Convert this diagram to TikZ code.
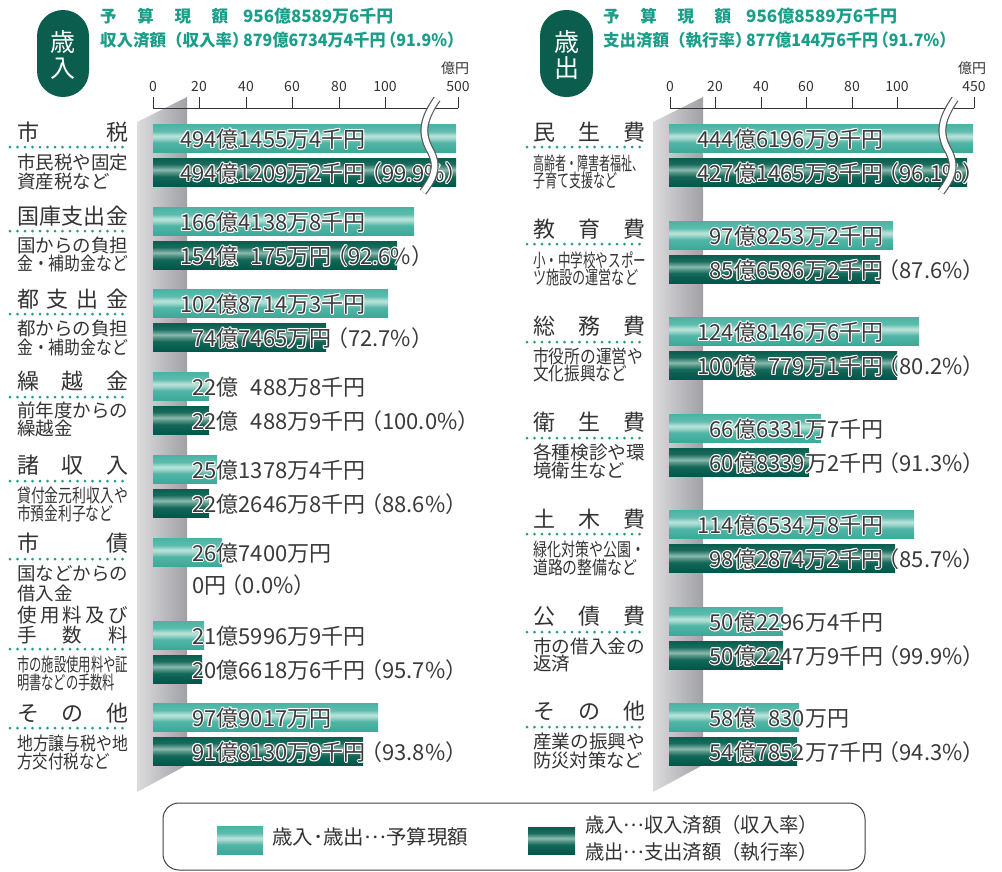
\documentclass[tikz,border=0pt]{standalone}
\usepackage{fontspec}
\setmainfont{Noto Sans CJK JP}
\usepackage{graphicx}
\definecolor{hdr}{HTML}{1A9E89}
\definecolor{pill}{HTML}{0B5D4D}
\definecolor{dotc}{HTML}{1F9D89}
\definecolor{txt}{HTML}{333333}
\definecolor{lbltxt}{HTML}{3A3A3A}
\definecolor{panelL}{HTML}{DCDCDE}
\definecolor{panelR}{HTML}{A0A0A5}
\definecolor{LBa}{HTML}{3CAA99}
\definecolor{LBb}{HTML}{52B5A6}
\definecolor{LBc}{HTML}{A6D9CF}
\definecolor{LBd}{HTML}{B9E2DA}
\definecolor{LBe}{HTML}{5FBCAE}
\definecolor{LBf}{HTML}{4AB3A4}
\definecolor{DBa}{HTML}{00564A}
\definecolor{DBb}{HTML}{136858}
\definecolor{DBc}{HTML}{5F9A8E}
\definecolor{DBd}{HTML}{8BBAB0}
\definecolor{DBe}{HTML}{1A6B5C}
\definecolor{DBf}{HTML}{0A5E4F}
\pgfdeclareverticalshading{lightbar}{100bp}{color(0bp)=(LBa); color(25bp)=(LBa); color(42bp)=(LBb); color(50bp)=(LBc); color(54bp)=(LBd); color(62bp)=(LBe); color(75bp)=(LBf); color(100bp)=(LBf)}
\pgfdeclareverticalshading{darkbar}{100bp}{color(0bp)=(DBa); color(25bp)=(DBa); color(42bp)=(DBb); color(50bp)=(DBc); color(54bp)=(DBd); color(64bp)=(DBe); color(75bp)=(DBf); color(100bp)=(DBf)}
\newcommand\halo[1]{\leavevmode
 \rlap{\textcolor{white}{\kern1pt#1}}%
 \rlap{\textcolor{white}{\kern-1pt#1}}%
 \rlap{\textcolor{white}{\raisebox{1pt}{#1}}}%
 \rlap{\textcolor{white}{\raisebox{-1pt}{#1}}}%
 \rlap{\textcolor{white}{\kern.7pt\raisebox{.7pt}{#1}}}%
 \rlap{\textcolor{white}{\kern-.7pt\raisebox{.7pt}{#1}}}%
 \rlap{\textcolor{white}{\kern.7pt\raisebox{-.7pt}{#1}}}%
 \rlap{\textcolor{white}{\kern-.7pt\raisebox{-.7pt}{#1}}}%
 #1}
\newcommand\fitw[2]{\resizebox{#1pt}{\height}{#2}}
\newcommand\pL{\kern-5.5pt（}
\newcommand\midell{\raisebox{.3em}{…}}
\newcommand\LB[3]{\shade[shading=lightbar] (#1,#2) rectangle (#3,#2+28);}
\newcommand\DB[3]{\shade[shading=darkbar] (#1,#2+34) rectangle (#3,#2+62);}
\newcommand\LL[5]{\node[blab] (#1) at (#2,#3+23.4) {\halo{\llap{#4}#5}};}
\newcommand\DL[5]{\node[blab] (#1) at (#2,#3+57.4) {\halo{\llap{#4}#5}};}
\tikzset{
 ttl/.style={inner sep=0, anchor=base west, font=\fontsize{22pt}{22pt}\selectfont, text=txt},
 subtxt/.style={inner sep=0, anchor=base west, font=\fontsize{18.5pt}{18.5pt}\selectfont, text=txt},
 blab/.style={inner sep=0, anchor=base west, font=\fontsize{22pt}{22pt}\selectfont, text=lbltxt},
 axlab/.style={inner sep=0, anchor=base, font=\fontsize{14pt}{14pt}\selectfont, text=txt},
 hdrtxt/.style={inner sep=0, anchor=base west, font=\fontsize{17pt}{17pt}\selectfont\bfseries, text=hdr},
 hdrlab/.style={inner sep=0, anchor=base west, font=\fontsize{16.5pt}{16.5pt}\selectfont\bfseries, text=hdr},
 pilltxt/.style={inner sep=0, anchor=base, font=\fontsize{25pt}{25pt}\selectfont, text=white},
 legtxt/.style={inner sep=0, anchor=base west, font=\fontsize{20pt}{20pt}\selectfont, text=txt},
 dotline/.style={dotc, line width=3pt, line cap=round, dash pattern=on 0pt off 7.5pt},
 axisline/.style={draw=txt, line width=1pt},
 brkout/.style={draw=black!65, line width=8pt},
 brkin/.style={draw=white, line width=5.6pt},
}
\begin{document}
\begin{tikzpicture}[x=1pt,y=-1pt]
\useasboundingbox (0,0) rectangle (1002,871);
\fill[white] (0,0) rectangle (1002,871);

% ================= LEFT (歳入) =================
\fill[pill, rounded corners=26pt] (37,10) rectangle (89,97);
\node[pilltxt] (pillL1) at (63,51.5) {歳};
\node[pilltxt] (pillL2) at (63,77.5) {入};
\node[hdrlab] (hL1a) at (100,22.6) {\hbox to 128pt{予\hfill 算\hfill 現\hfill 額}};
\node[hdrtxt] (hL1b) at (243,22.6) {\fitw{150}{956億8589万6千円}};
\node[hdrlab] (hL2a) at (100,46.3) {収入済額（収入率）};
\node[hdrtxt] (hL2b) at (243,46.3) {\fitw{220}{879億6734万4千円\pL 91.9\%）}};

% panel
\shade[left color=panelL, right color=panelR] (137,122) -- (187,97) -- (187,765) -- (137,792) -- cycle;

% axis
\draw[axisline] (153,108) -- (458,108);
\foreach \xx/\lab [count=\k] in {153/0,199/20,246/40,292/60,339/80,385/100,458/500}{
  \draw[axisline] (\xx,97) -- (\xx,108);
  \node[axlab] (axL\k) at (\xx,91) {\lab};
}
\node[axlab] (unitL) at (455,73.5) {億円};

% bars
\LB{153}{124}{456} \DB{153}{124}{456}
\LB{153}{207}{414} \DB{153}{207}{397}
\LB{153}{289}{388} \DB{153}{289}{326}
\LB{153}{372}{209} \DB{153}{372}{209}
\LB{153}{455}{217} \DB{153}{455}{209}
\LB{153}{538}{222}
\LB{153}{621}{204} \DB{153}{621}{202}
\LB{153}{703}{378} \DB{153}{703}{363}

% bar labels
\LL{lL1}{216.5}{124}{494}{億1455万4千円}
\DL{dL1}{216.5}{124}{494}{億1209万2千円\pL 99.9\%）}
\LL{lL2}{216.5}{207}{166}{億4138万8千円}
\DL{dL2}{216.5}{207}{154}{億\phantom{0}175万円\pL 92.6\%）}
\LL{lL3}{216.5}{289}{102}{億8714万3千円}
\DL{dL3}{216.5}{289}{74}{億7465万円\pL 72.7\%）}
\LL{lL4}{216.5}{372}{22}{億\phantom{0}488万8千円}
\DL{dL4}{216.5}{372}{22}{億\phantom{0}488万9千円\pL 100.0\%）}
\LL{lL5}{216.5}{455}{25}{億1378万4千円}
\DL{dL5}{216.5}{455}{22}{億2646万8千円\pL 88.6\%）}
\LL{lL6}{216.5}{538}{26}{億7400万円}
\node[blab] (dL6) at (192,593.4) {0円\pL 0.0\%）};
\LL{lL7}{216.5}{621}{21}{億5996万9千円}
\DL{dL7}{216.5}{621}{20}{億6618万6千円\pL 95.7\%）}
\LL{lL8}{216.5}{703}{97}{億9017万円}
\DL{dL8}{216.5}{703}{91}{億8130万9千円\pL 93.8\%）}

% titles
\node[ttl] (tL1) at (17,140.4) {\hbox to 111pt{市\hfill 税}};
\draw[dotline] (10,147) -- (130,147);
\node[subtxt] (sL1a) at (17,169) {\fitw{111}{市民税や固定}};
\node[subtxt] (sL1b) at (17,188) {資産税など};

\node[ttl] (tL2) at (17,224.4) {\hbox to 111pt{国\hfill 庫\hfill 支\hfill 出\hfill 金}};
\draw[dotline] (10,231) -- (130,231);
\node[subtxt] (sL2a) at (17,252) {\fitw{111}{国からの負担}};
\node[subtxt] (sL2b) at (17,270) {\fitw{111}{金・補助金など}};

\node[ttl] (tL3) at (17,307.4) {\hbox to 111pt{都\hfill 支\hfill 出\hfill 金}};
\draw[dotline] (10,314) -- (130,314);
\node[subtxt] (sL3a) at (17,335) {\fitw{111}{都からの負担}};
\node[subtxt] (sL3b) at (17,354) {\fitw{111}{金・補助金など}};

\node[ttl] (tL4) at (17,389.4) {\hbox to 111pt{繰\hfill 越\hfill 金}};
\draw[dotline] (10,397) -- (130,397);
\node[subtxt] (sL4a) at (17,417) {\fitw{111}{前年度からの}};
\node[subtxt] (sL4b) at (17,435) {繰越金};

\node[ttl] (tL5) at (17,473.4) {\hbox to 111pt{諸\hfill 収\hfill 入}};
\draw[dotline] (10,481) -- (130,481);
\node[subtxt] (sL5a) at (17,502) {\fitw{111}{貸付金元利収入や}};
\node[subtxt] (sL5b) at (17,520) {\fitw{96}{市預金利子など}};

\node[ttl] (tL6) at (17,551.4) {\hbox to 111pt{市\hfill 債}};
\draw[dotline] (10,559) -- (130,559);
\node[subtxt] (sL6a) at (17,580) {\fitw{111}{国などからの}};
\node[subtxt] (sL6b) at (17,600) {借入金};

\node[ttl, font=\fontsize{19.5pt}{19.5pt}\selectfont] (tL7a) at (17,622.4) {\hbox to 111pt{使\hfill 用\hfill 料\hfill 及\hfill び}};
\node[ttl, font=\fontsize{19.5pt}{19.5pt}\selectfont] (tL7b) at (17,642.4) {\hbox to 111pt{手\hfill 数\hfill 料}};
\draw[dotline] (10,649) -- (130,649);
\node[subtxt] (sL7a) at (17,671) {\fitw{111}{市の施設使用料や証}};
\node[subtxt] (sL7b) at (17,689) {\fitw{98}{明書などの手数料}};

\node[ttl] (tL8) at (17,721.4) {\hbox to 111pt{そ\hfill の\hfill 他}};
\draw[dotline] (10,728) -- (130,728);
\node[subtxt] (sL8a) at (17,750) {\fitw{111}{地方譲与税や地}};
\node[subtxt] (sL8b) at (17,768) {\fitw{93}{方交付税など}};

% break
\draw[brkout] (437,99) .. controls (424,118) and (420,132) .. (430,150) .. controls (440,168) and (432,180) .. (423,192);
\draw[brkin] (437,99) .. controls (424,118) and (420,132) .. (430,150) .. controls (440,168) and (432,180) .. (423,192);

% ================= RIGHT (歳出) =================
\fill[pill, rounded corners=26pt] (540,10) rectangle (593,97);
\node[pilltxt] (pillR1) at (566.5,51.5) {歳};
\node[pilltxt] (pillR2) at (566.5,77.5) {出};
\node[hdrlab] (hR1a) at (603,22.6) {\hbox to 128pt{予\hfill 算\hfill 現\hfill 額}};
\node[hdrtxt] (hR1b) at (746,22.6) {\fitw{151}{956億8589万6千円}};
\node[hdrlab] (hR2a) at (603,46.3) {支出済額（執行率）};
\node[hdrtxt] (hR2b) at (746,46.3) {\fitw{209}{877億144万6千円\pL 91.7\%）}};

\shade[left color=panelL, right color=panelR] (653,122) -- (703,97) -- (703,765) -- (653,792) -- cycle;

\draw[axisline] (670,108) -- (974,108);
\foreach \xx/\lab [count=\k] in {670/0,715/20,761/40,806/60,852/80,897/100,974/450}{
  \draw[axisline] (\xx,97) -- (\xx,108);
  \node[axlab] (axR\k) at (\xx,91) {\lab};
}
\node[axlab] (unitR) at (972,73.5) {億円};

\LB{669}{124}{973} \DB{669}{124}{967}
\LB{669}{221}{893} \DB{669}{221}{880}
\LB{669}{317}{919} \DB{669}{317}{897}
\LB{669}{414}{821} \DB{669}{414}{809}
\LB{669}{510}{914} \DB{669}{510}{895}
\LB{669}{607}{783} \DB{669}{607}{783}
\LB{669}{703}{799} \DB{669}{703}{797}

\LL{lR1}{734}{124}{444}{億6196万9千円}
\DL{dR1}{734}{124}{427}{億1465万3千円\pL 96.1\%）}
\LL{lR2}{734}{221}{97}{億8253万2千円}
\DL{dR2}{734}{221}{85}{億6586万2千円\pL 87.6\%）}
\LL{lR3}{734}{317}{124}{億8146万6千円}
\DL{dR3}{734}{317}{100}{億\phantom{0}779万1千円\pL 80.2\%）}
\LL{lR4}{734}{414}{66}{億6331万7千円}
\DL{dR4}{734}{414}{60}{億8339万2千円\pL 91.3\%）}
\LL{lR5}{734}{510}{114}{億6534万8千円}
\DL{dR5}{734}{510}{98}{億2874万2千円\pL 85.7\%）}
\LL{lR6}{734}{607}{50}{億2296万4千円}
\DL{dR6}{734}{607}{50}{億2247万9千円\pL 99.9\%）}
\LL{lR7}{734}{703}{58}{億\phantom{0}830万円}
\DL{dR7}{734}{703}{54}{億7852万7千円\pL 94.3\%）}

\node[ttl] (tR1) at (533,140.4) {\hbox to 112pt{民\hfill 生\hfill 費}};
\draw[dotline] (527,147) -- (647,147);
\node[subtxt] (sR1a) at (533,170) {\fitw{110}{高齢者・障害者福祉、}};
\node[subtxt] (sR1b) at (533,187) {\fitw{84}{子育て支援など}};

\node[ttl] (tR2) at (533,237.4) {\hbox to 112pt{教\hfill 育\hfill 費}};
\draw[dotline] (527,244) -- (647,244);
\node[subtxt] (sR2a) at (533,267) {\fitw{113}{小・中学校やスポー}};
\node[subtxt] (sR2b) at (533,284) {\fitw{105}{ツ施設の運営など}};

\node[ttl] (tR3) at (533,334.4) {\hbox to 112pt{総\hfill 務\hfill 費}};
\draw[dotline] (527,342) -- (647,342);
\node[subtxt] (sR3a) at (533,363) {\fitw{110}{市役所の運営や}};
\node[subtxt] (sR3b) at (533,380) {\fitw{94}{文化振興など}};

\node[ttl] (tR4) at (533,430.4) {\hbox to 112pt{衛\hfill 生\hfill 費}};
\draw[dotline] (527,438) -- (647,438);
\node[subtxt] (sR4a) at (533,459) {\fitw{112}{各種検診や環}};
\node[subtxt] (sR4b) at (533,477) {\fitw{92}{境衛生など}};

\node[ttl] (tR5) at (533,527.4) {\hbox to 112pt{土\hfill 木\hfill 費}};
\draw[dotline] (527,534) -- (647,534);
\node[subtxt] (sR5a) at (533,556) {\fitw{112}{緑化対策や公園・}};
\node[subtxt] (sR5b) at (533,574) {\fitw{104}{道路の整備など}};

\node[ttl] (tR6) at (533,624.4) {\hbox to 112pt{公\hfill 債\hfill 費}};
\draw[dotline] (527,632) -- (647,632);
\node[subtxt] (sR6a) at (533,653) {\fitw{112}{市の借入金の}};
\node[subtxt] (sR6b) at (533,670) {返済};

\node[ttl] (tR7) at (533,719.4) {\hbox to 112pt{そ\hfill の\hfill 他}};
\draw[dotline] (527,727) -- (647,727);
\node[subtxt] (sR7a) at (533,748) {\fitw{112}{産業の振興や}};
\node[subtxt] (sR7b) at (533,767) {\fitw{110}{防災対策など}};

\draw[brkout] (955,99) .. controls (942,118) and (938,132) .. (948,150) .. controls (958,168) and (950,180) .. (941,192);
\draw[brkin] (955,99) .. controls (942,118) and (938,132) .. (948,150) .. controls (958,168) and (950,180) .. (941,192);

% ================= LEGEND =================
\draw[draw=black!75, line width=1pt, rounded corners=16pt] (163,803) rectangle (865,870);
\shade[shading=lightbar] (217,826) rectangle (263,854);
\node[legtxt] (leg1) at (272,844.6) {\fitw{196}{歳入･歳出\midell 予算現額}};
\shade[shading=darkbar] (528,827) rectangle (575,854);
\node[legtxt] (leg2) at (585,832.6) {\fitw{233}{歳入\midell 収入済額（収入率）}};
\node[legtxt] (leg3) at (585,859) {\fitw{233}{歳出\midell 支出済額（執行率）}};
\end{tikzpicture}
\end{document}
